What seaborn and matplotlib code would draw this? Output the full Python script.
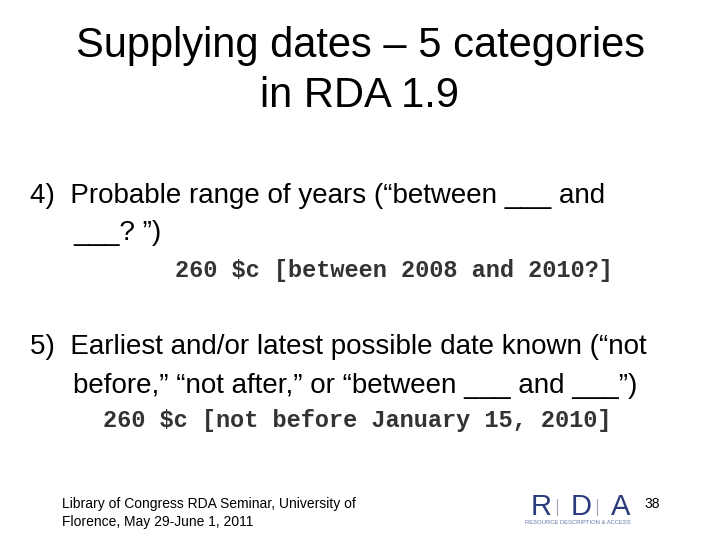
import matplotlib
matplotlib.use("Agg")
import matplotlib.pyplot as plt
import seaborn as sns

sns.set_theme(style="white")
plt.rcParams['font.family'] = ['Liberation Sans', 'DejaVu Sans']

title_lines = ["Supplying dates \u2013 5 categories", "in RDA 1.9"]
body_lines = [
    (30, 196, "4)  Probable range of years (\u201cbetween ___ and", "sans", 20),
    (73, 233, "___? \u201d)", "sans", 20),
    (175, 270, "260 $c [between 2008 and 2010?]", "mono", 17),
    (30, 347, "5)  Earliest and/or latest possible date known (\u201cnot", "sans", 20),
    (73, 386, "before,\u201d \u201cnot after,\u201d or \u201cbetween ___ and ___\u201d)", "sans", 20),
    (103, 420, "260 $c [not before January 15, 2010]", "mono", 17),
]
footer_lines = ["Library of Congress RDA Seminar, University of", "Florence, May 29-June 1, 2011"]
page_number = "38"
logo_letters = ["R", "D", "A"]

fig = plt.figure(figsize=(7.2, 5.4), dpi=100)
ax = fig.add_axes([0, 0, 1, 1])
ax.set_xlim(0, 720)
ax.set_ylim(540, 0)
ax.axis("off")

for i, t in enumerate(title_lines):
    ax.text(360, 46 + 50 * i, t, ha="center", va="center", fontsize=30, color="black")

for x, y, t, kind, fs in body_lines:
    if kind == "mono":
        ax.text(x, y, t, ha="left", va="center", fontsize=fs,
                family="Liberation Mono", fontweight="bold", color="#333333")
    else:
        ax.text(x, y, t, ha="left", va="center", fontsize=fs, color="black")

for i, t in enumerate(footer_lines):
    ax.text(62, 504 + 18 * i, t, ha="left", va="center", fontsize=10, color="black")

ax.text(652, 504, page_number, ha="center", va="center", fontsize=10, color="black")

# RDA logo
logo_color = "#2b3a7a"
for i, letter in enumerate(logo_letters):
    ax.text(541 + 40 * i, 507, letter, ha="center", va="center", fontsize=21,
            color=logo_color, family="Liberation Sans")
for xs in [557, 597]:
    ax.plot([xs, xs], [499, 515], color="#9aa3c0", lw=0.8)
ax.text(578, 523, "RESOURCE DESCRIPTION & ACCESS", ha="center", va="center",
        fontsize=4.2, color="#6a78a8")

fig.savefig("out.png", dpi=100)
